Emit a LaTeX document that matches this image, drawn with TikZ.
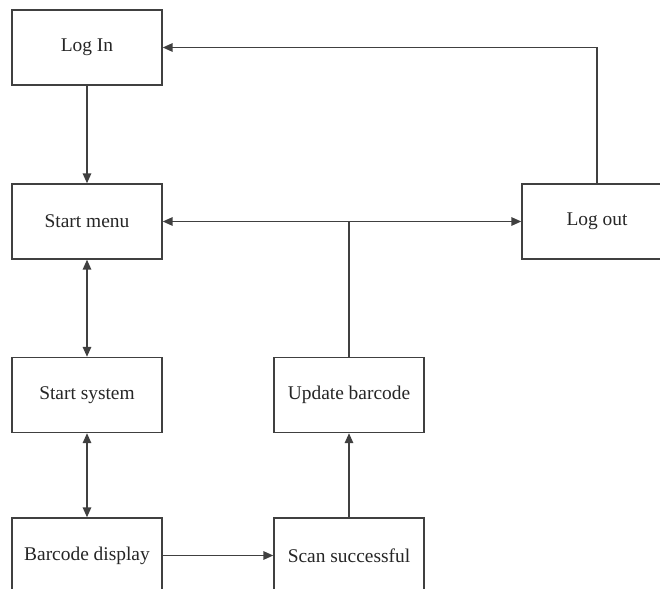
\documentclass[tikz,border=0pt]{standalone}
\usepackage{fontspec}
\setmainfont{Liberation Serif}
\usetikzlibrary{arrows.meta}
\tikzset{
	stepbox/.style={draw=black!75, line width=1pt, minimum width=3.75cm, minimum height=1.875cm, fill=white, font=\fontsize{13.8}{16}\selectfont, text=black!85},
	link/.style={draw=black!75, line width=1pt, -{Triangle[length=7pt,width=6pt]}},
	twolink/.style={draw=black!75, line width=1pt, {Triangle[length=7pt,width=6pt]}-{Triangle[length=7pt,width=6pt]}}
}

\begin{document}
\begin{tikzpicture}[x=0.025cm, y=-0.025cm]
			%%%%% START %%%%%
			
			\useasboundingbox (0, 0) rectangle (660, 589);
			\clip (0, 0) rectangle (660, 589);
			
			\node[stepbox] (login) at (87, 47.5) {Log In};
			\node[stepbox] (startmenu) at (87, 221.5) {Start menu};
			\node[stepbox] (logout) at (597, 221.5) {Log out};
			\node[stepbox] (startsystem) at (87, 395) {Start system};
			\node[stepbox] (updatebarcode) at (349, 395) {Update barcode};
			\node[stepbox] (barcodedisplay) at (87, 555.5) {Barcode display};
			\node[stepbox] (scansuccess) at (349, 555.5) {Scan successful};
			
			\draw[link] (login) -- (startmenu);
			\draw[twolink] (startmenu) -- (startsystem);
			\draw[twolink] (startsystem) -- (barcodedisplay);
			\draw[link] (barcodedisplay) -- (scansuccess);
			\draw[link] (scansuccess) -- (updatebarcode);
			
			\coordinate (junction) at (updatebarcode.north |- startmenu.east);
			\draw[draw=black!75, line width=1pt] (updatebarcode.north) -- (junction);
			\draw[link] (junction) -- (startmenu.east);
			\draw[link] (junction) -- (logout.west);
			
			\draw[link] (logout.north) |- (login.east);
			
			%%%%% END %%%%%
		\end{tikzpicture}
\end{document}
